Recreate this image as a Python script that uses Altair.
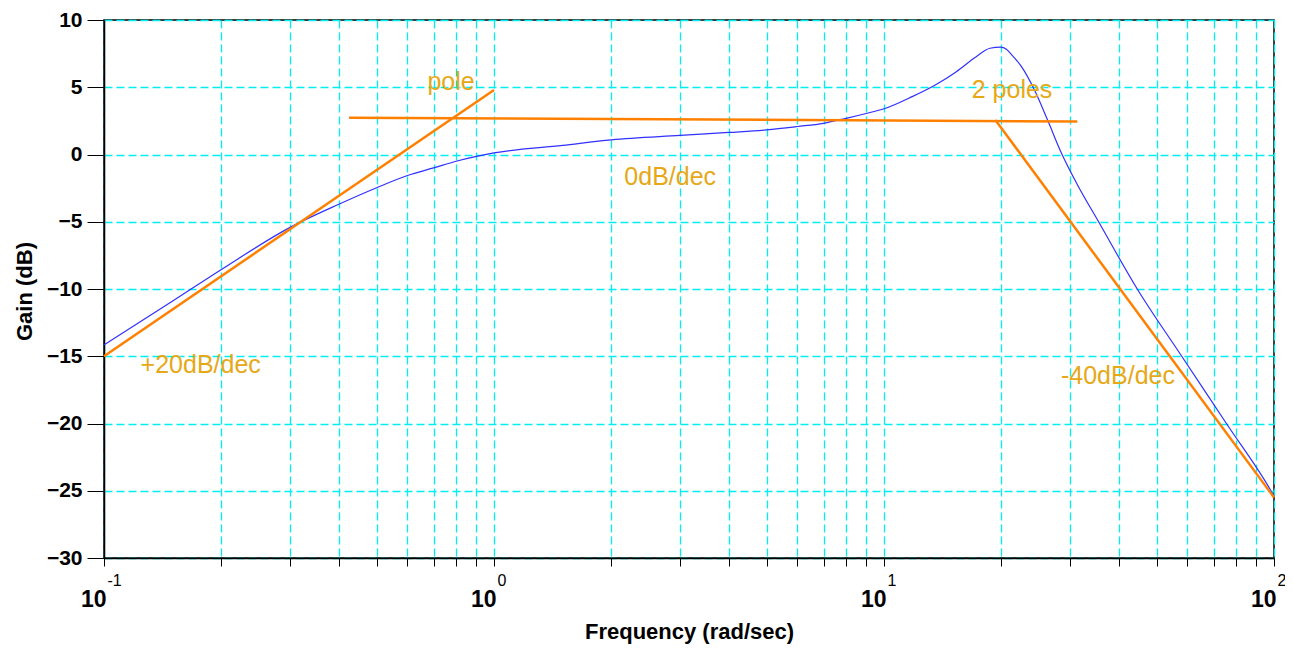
import altair as alt
import pandas as pd

# Measured frequency response (blue curve)
freq = [0.1, 0.15, 0.2, 0.3, 0.4, 0.5, 0.6, 0.7, 0.8, 1.0, 1.5, 2, 3, 4, 5, 6, 7, 8, 9, 10,
        11.8, 13.5, 15.3, 17.2, 18.7, 19.9, 20.6, 21.2, 22.5, 24.4, 26.3, 28.5, 31.3,
        35.5, 44.6, 58.0, 75.5, 98.2, 100]
gain = [-14.15, -10.9, -8.55, -5.42, -3.70, -2.47, -1.56, -1.0, -0.50, 0.12, 0.68, 1.09, 1.42,
        1.64, 1.83, 2.08, 2.32, 2.69, 3.05, 3.40,
        4.30, 5.15, 6.14, 7.25, 7.90, 7.98, 7.82, 7.45, 6.55, 4.70, 2.52, 0.11, -2.23,
        -5.0, -10.0, -15.0, -20.0, -25.0, -25.4]

# Asymptote segments (orange)
asym_seg = ["a", "a", "b", "b", "c", "c"]
asym_freq = [0.1, 1.0, 0.425, 31.3, 19.3, 100]
asym_gain = [-15.0, 4.8, 2.74, 2.45, 2.57, -25.5]

# Annotations
note_text = ["pole", "2 poles", "0dB/dec", "+20dB/dec", "-40dB/dec"]
note_freq = [0.776, 21.3, 2.83, 0.177, 39.8]
note_gain = [5.42, 4.83, -1.66, -15.68, -16.5]

# Axis ticks
x_ticks = [0.1, 0.2, 0.3, 0.4, 0.5, 0.6, 0.7, 0.8, 0.9,
           1, 2, 3, 4, 5, 6, 7, 8, 9,
           10, 20, 30, 40, 50, 60, 70, 80, 90, 100]
y_ticks = [-30, -25, -20, -15, -10, -5, 0, 5, 10]

FONT = "Liberation Sans"
GRID = "#00EEF2"
BLUE = "#3030FF"
ORANGE = "#FF8000"
NOTE = "#E6A817"

curve = pd.DataFrame({"freq": freq, "gain": gain})
asym = pd.DataFrame({"seg": asym_seg, "freq": asym_freq, "gain": asym_gain})
notes = pd.DataFrame({"text": note_text, "freq": note_freq, "gain": note_gain})

xs = alt.Scale(type="log", domain=[0.1, 100], nice=False)
ys = alt.Scale(domain=[-30, 10], nice=False)

is_decade = "abs(log(datum.value)/LN10 - round(log(datum.value)/LN10)) < 0.001"

axis_base = alt.Axis(
    values=x_ticks, orient="bottom",
    labelExpr=f"{is_decade} ? '10' : ''",
    labelFont=FONT, labelFontSize=23, labelFontWeight="bold", labelColor="black",
    labelAlign="right", labelOffset=2, labelPadding=22, labelBaseline="top",
    labelFlush=False, labelOverlap=False,
    tickSize=8, tickColor="black", tickWidth=1,
    domainColor="black", domainWidth=1.5,
    grid=True, gridColor=GRID, gridDash=[8, 4], gridWidth=1.3,
    title="Frequency (rad/sec)", titleFont=FONT, titleFontSize=22, titleFontWeight="bold",
    titleColor="black", titleY=73, titleBaseline="middle",
)
axis_exp = alt.Axis(
    values=x_ticks, orient="bottom",
    labelExpr=f"{is_decade} ? ('' + round(log(datum.value)/LN10)) : ''",
    labelFont=FONT, labelFontSize=16, labelFontWeight="normal", labelColor="black",
    labelAlign="left", labelOffset=3, labelPadding=6, labelBaseline="top",
    labelFlush=False, labelOverlap=False,
    tickSize=8, tickOpacity=0, domain=False, grid=False, title="",
)
y_axis = alt.Axis(
    values=y_ticks,
    labelFont=FONT, labelFontSize=21, labelFontWeight="bold", labelColor="black",
    labelPadding=5, tickSize=17, tickColor="black",
    domainColor="black", domainWidth=1.5,
    grid=True, gridColor=GRID, gridDash=[8, 4], gridWidth=1.3,
    title="Gain (dB)", titleFont=FONT, titleFontSize=22, titleFontWeight="bold",
    titleColor="black", titleX=-80, titleY=271, titleAngle=-90,
    titleAlign="center", titleBaseline="middle",
)

blue = alt.Chart(curve).mark_line(color=BLUE, strokeWidth=1.2, interpolate="monotone").encode(
    x=alt.X("freq:Q", scale=xs, axis=axis_base),
    y=alt.Y("gain:Q", scale=ys, axis=y_axis),
)

orange = alt.Chart(asym).mark_line(color=ORANGE, strokeWidth=2.5).encode(
    x=alt.X("freq:Q", scale=xs, axis=axis_exp),
    y=alt.Y("gain:Q", scale=ys, axis=None),
    detail="seg:N",
)

text = alt.Chart(notes).mark_text(font=FONT, fontSize=25, color=NOTE,
                                  align="center", baseline="middle").encode(
    x=alt.X("freq:Q", scale=xs, axis=None),
    y=alt.Y("gain:Q", scale=ys, axis=None),
    text="text:N",
)

chart = alt.layer(blue, orange, text).resolve_axis(
    x="independent", y="independent"
).properties(
    width=1170, height=538,
    autosize=alt.AutoSizeParams(type="none"),
    padding={"left": 96, "top": 12, "right": 11, "bottom": 86},
).configure_view(stroke="black", strokeWidth=1.5)

chart.save("out.html", embed_options={"renderer": "svg", "actions": False})
